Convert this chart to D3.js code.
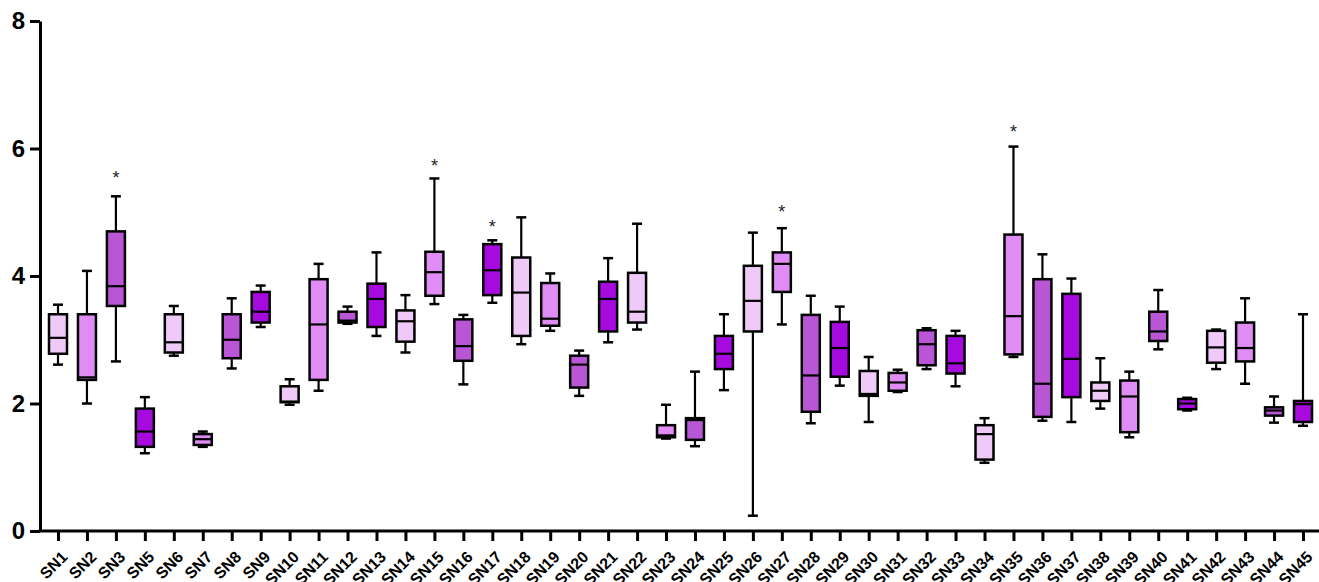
<!DOCTYPE html>
<html>
<head>
<meta charset="utf-8">
<script src="https://cdn.jsdelivr.net/npm/d3@7"></script>
<style>
  body { margin: 0; background: #fff; }
  text { font-family: "Liberation Sans", Arial, sans-serif; font-weight: bold; }
</style>
</head>
<body>
<script>
// categories (no SN4 in the source)
const categories = ["SN1","SN2","SN3","SN5","SN6","SN7","SN8","SN9","SN10","SN11","SN12","SN13","SN14","SN15","SN16","SN17","SN18","SN19","SN20","SN21","SN22","SN23","SN24","SN25","SN26","SN27","SN28","SN29","SN30","SN31","SN32","SN33","SN34","SN35","SN36","SN37","SN38","SN39","SN40","SN41","SN42","SN43","SN44","SN45"];

// box plot stats
const mins    = [2.61,2.00,2.66,1.22,2.75,1.32,2.55,3.20,1.98,2.20,3.25,3.06,2.80,3.56,2.30,3.58,2.93,3.14,2.12,2.96,3.16,1.45,1.33,2.21,0.24,3.24,1.69,2.28,1.71,2.18,2.54,2.27,1.07,2.73,1.73,1.71,1.92,1.47,2.85,1.89,2.54,2.31,1.70,1.65];
const q1s     = [2.78,2.37,3.53,1.32,2.80,1.35,2.71,3.27,2.02,2.37,3.27,3.20,2.97,3.69,2.67,3.70,3.06,3.22,2.25,3.13,3.27,1.47,1.43,2.54,3.13,3.75,1.87,2.42,2.12,2.20,2.60,2.47,1.12,2.77,1.79,2.10,2.04,1.55,2.98,1.91,2.64,2.66,1.81,1.71];
const medians = [3.03,2.41,3.84,1.56,2.96,1.44,3.00,3.44,2.03,3.24,3.30,3.64,3.29,4.06,2.90,4.09,3.74,3.33,2.61,3.64,3.44,1.50,1.74,2.78,3.61,4.19,2.44,2.87,2.15,2.33,2.93,2.63,1.52,3.37,2.31,2.70,2.20,2.11,3.13,2.00,2.88,2.87,1.89,1.99];
const q3s     = [3.40,3.40,4.70,1.92,3.40,1.52,3.40,3.75,2.27,3.95,3.44,3.88,3.46,4.38,3.32,4.50,4.29,3.89,2.75,3.91,4.05,1.66,1.77,3.06,4.16,4.37,3.39,3.28,2.51,2.48,3.15,3.06,1.66,4.65,3.95,3.72,2.33,2.36,3.44,2.07,3.14,3.27,1.94,2.04];
const maxs    = [3.55,4.08,5.25,2.10,3.53,1.56,3.65,3.85,2.38,4.19,3.52,4.37,3.70,5.53,3.39,4.56,4.92,4.04,2.83,4.28,4.82,1.98,2.50,3.40,4.68,4.75,3.69,3.52,2.73,2.53,3.18,3.14,1.77,6.03,4.34,3.96,2.71,2.50,3.78,2.09,3.16,3.65,2.11,3.40];

// asterisk markers
const starCats = ["SN3","SN15","SN17","SN27","SN35"];
const starVals = [5.58,5.77,4.81,5.05,6.30];

const yTicks = [0,2,4,6,8];
const palette = ["#efcaf8","#df8cf5","#b956d6","#a70ade"];

const width = 1319, height = 582;

const svg = d3.select("body").append("svg")
    .attr("width", width)
    .attr("height", height);

const x = d3.scalePoint().domain(categories).range([58, 1303]);
const y = d3.scaleLinear().domain([0, 8]).range([531, 21]);

const data = categories.map((c, i) => ({
    cat: c, min: mins[i], q1: q1s[i], med: medians[i], q3: q3s[i], max: maxs[i], col: palette[i % 4]
}));

const boxW = 18, capW = 10;

const g = svg.append("g");
const box = g.selectAll("g.box").data(data).enter().append("g").attr("class", "box");

// whiskers
box.append("line")
    .attr("x1", d => x(d.cat)).attr("x2", d => x(d.cat))
    .attr("y1", d => y(d.max)).attr("y2", d => y(d.min))
    .attr("stroke", "#000").attr("stroke-width", 2.2);
box.append("line")
    .attr("x1", d => x(d.cat) - capW / 2).attr("x2", d => x(d.cat) + capW / 2)
    .attr("y1", d => y(d.max)).attr("y2", d => y(d.max))
    .attr("stroke", "#000").attr("stroke-width", 2.5);
box.append("line")
    .attr("x1", d => x(d.cat) - capW / 2).attr("x2", d => x(d.cat) + capW / 2)
    .attr("y1", d => y(d.min)).attr("y2", d => y(d.min))
    .attr("stroke", "#000").attr("stroke-width", 2.5);

// boxes
box.append("rect")
    .attr("x", d => x(d.cat) - boxW / 2)
    .attr("width", boxW)
    .attr("y", d => y(d.q3))
    .attr("height", d => y(d.q1) - y(d.q3))
    .attr("fill", d => d.col)
    .attr("stroke", "#000").attr("stroke-width", 2.5);

// medians
box.append("line")
    .attr("x1", d => x(d.cat) - boxW / 2).attr("x2", d => x(d.cat) + boxW / 2)
    .attr("y1", d => y(d.med)).attr("y2", d => y(d.med))
    .attr("stroke", "#000").attr("stroke-width", 2.2);

// asterisks
svg.selectAll("text.star").data(starCats).enter().append("text")
    .attr("class", "star")
    .attr("x", d => x(d))
    .attr("y", (d, i) => y(starVals[i]) + 9)
    .attr("text-anchor", "middle")
    .style("font-weight", "normal")
    .style("font-size", "18px")
    .attr("fill", "#222")
    .text("*");

// y axis
const yAxis = svg.append("g")
    .attr("transform", "translate(40,0)")
    .call(d3.axisLeft(y).tickValues(yTicks).tickSize(10).tickSizeOuter(0).tickPadding(5));
yAxis.select(".domain").attr("stroke-width", 3);
yAxis.selectAll(".tick line").attr("stroke-width", 3);
yAxis.selectAll(".tick text").style("font-size", "24px").attr("fill", "#000");

// x axis
const xAxis = svg.append("g")
    .attr("transform", "translate(0,531)")
    .call(d3.axisBottom(x).tickSize(10).tickSizeOuter(0));
xAxis.select(".domain").attr("d", "M38.5,0H1319").attr("stroke-width", 3);
xAxis.selectAll(".tick line").attr("stroke-width", 3);
xAxis.selectAll(".tick text")
    .style("font-size", "16px")
    .attr("fill", "#000")
    .attr("text-anchor", "end")
    .attr("y", 0).attr("dy", 0)
    .attr("transform", "translate(10,27) rotate(-45)");
</script>
</body>
</html>
